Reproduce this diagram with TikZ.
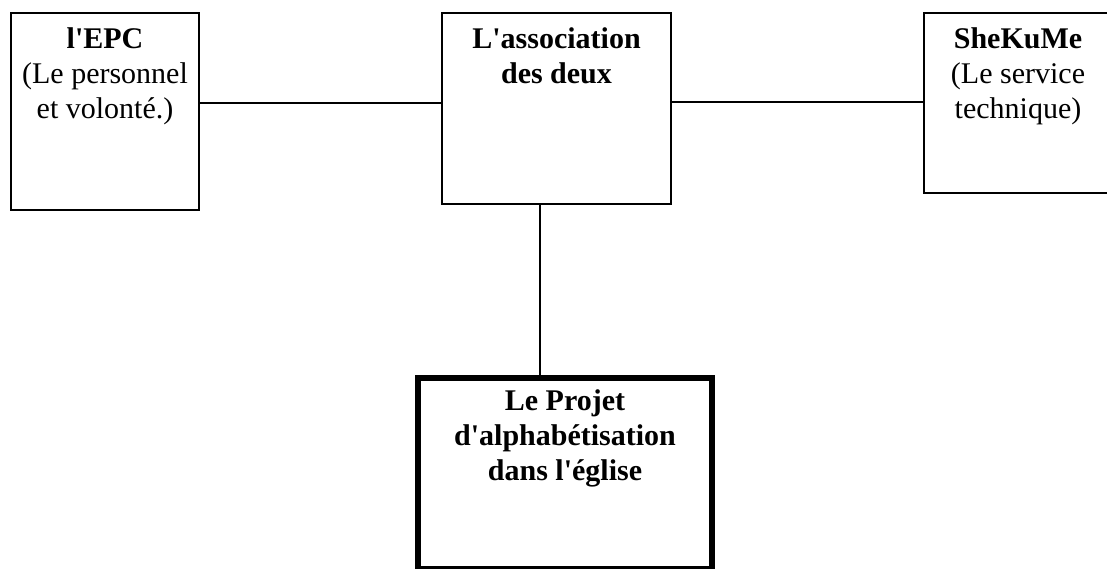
\documentclass[tikz,border=0pt]{standalone}
\usepackage{fontspec}
\setmainfont{Liberation Serif}
\usetikzlibrary{positioning}
\tikzset{box/.style={draw, line width=2pt, inner sep=0pt},
    txt/.style={align=center, inner sep=0pt, font=\fontsize{30}{35}\selectfont}}
\newcommand{\sq}{\textquotesingle}

\begin{document}
\begin{tikzpicture}[x=1pt, y=1pt]
    \useasboundingbox (0,0) rectangle (1107,-568);

    \node[box, minimum width=188pt, minimum height=197pt] (epc) at (105, -111.5) {};
    \node[box, minimum width=229pt, minimum height=191pt] (assoc) at (556.5, -108.5) {};
    \node[box, minimum width=188pt, minimum height=180pt] (shekume) at (1018, -103) {};
    \node[box, line width=6pt, minimum width=294pt, minimum height=191pt] (projet) at (565, -473.5) {};

    \node[txt, below=15pt of epc.north] (epctext) {\textbf{l\sq EPC}\\(Le personnel\\et volonté.)};
    \node[txt, below=15pt of assoc.north] (assoctext) {\textbf{L\sq association}\\\textbf{des deux}};
    \node[txt, below=15pt of shekume.north] (shekumetext) {\textbf{SheKuMe}\\(Le service\\technique)};
    \node[txt, below=14pt of projet.north] (projettext) {\textbf{Le Projet}\\\textbf{d\sq alphabétisation}\\\textbf{dans l\sq église}};

    \coordinate (leftrow) at (0, -103);
    \coordinate (rightrow) at (0, -102);
    \coordinate (midcol) at (540, 0);

    \draw[line width=2pt] (epc.east |- leftrow) -- (assoc.west |- leftrow);
    \draw[line width=2pt] (assoc.east |- rightrow) -- (shekume.west |- rightrow);
    \draw[line width=2pt] (assoc.south -| midcol) -- (projet.north -| midcol);
\end{tikzpicture}
\end{document}
